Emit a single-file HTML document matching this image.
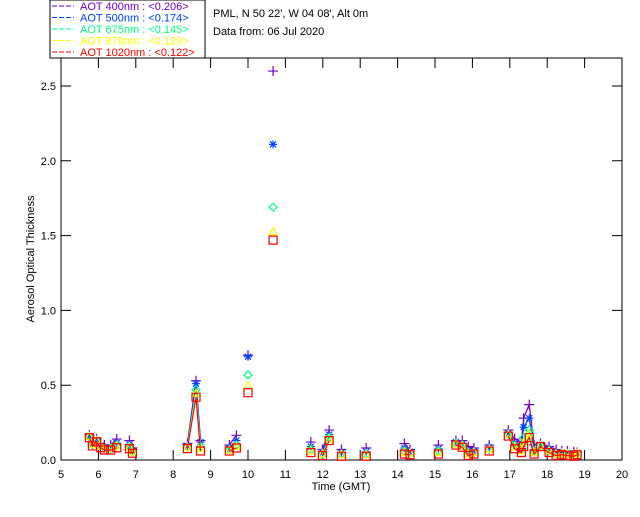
<!DOCTYPE html>
<html><head><meta charset="utf-8"><style>
body{margin:0;background:#fff;}
svg text{font-family:"Liberation Sans",sans-serif;font-size:11px;}
</style></head><body>
<svg id="c" width="640" height="512" xmlns="http://www.w3.org/2000/svg">
<rect width="640" height="512" fill="#fff"/>
<g id="legend">
<rect x="50" y="0" width="155" height="58" fill="none" stroke="#000"/>
</g>
<text x="213" y="17">PML, N 50 22', W 04 08', Alt 0m</text>
<text x="213" y="35">Data from: 06 Jul 2020</text>
<g id="axes"></g>
<g id="plot"></g>
</svg>
<script>
const t    =[5.76,5.84,5.95,6.06,6.16,6.33,6.49,6.83,6.91,8.38,8.61,8.73,9.5,9.69,10.0,10.67,11.68,11.99,12.17,12.5,13.16,14.18,14.33,15.09,15.56,15.73,15.89,16.04,16.45,16.96,17.13,17.31,17.37,17.52,17.65,17.82,18.05,18.24,18.39,18.54,18.71,18.8];
const a400 =[.167,.12,.14,.11,.10,.10,.14,.13,.08,.11,.53,.13,.10,.165,.70,2.6,.12,.07,.20,.07,.08,.11,.07,.10,.13,.13,.09,.08,.10,.20,.14,.12,.28,.37,.10,.11,.09,.07,.06,.06,.055,.05];
const a500 =[.159,.108,.132,.097,.085,.085,.114,.105,.064,.095,.51,.12,.08,.13,.69,2.11,.09,.05,.17,.05,.055,.08,.055,.075,.12,.11,.065,.06,.085,.18,.11,.09,.22,.28,.07,.10,.07,.05,.05,.045,.04,.045];
const a675 =[.154,.102,.127,.09,.077,.077,.099,.091,.055,.086,.47,.09,.07,.10,.57,1.69,.07,.04,.15,.04,.04,.06,.045,.06,.11,.10,.05,.05,.07,.17,.095,.07,.15,.20,.055,.095,.06,.04,.045,.04,.035,.04];
const a870 =[.151,.097,.124,.085,.07,.07,.088,.08,.048,.079,.44,.07,.06,.085,.49,1.52,.055,.035,.135,.03,.03,.045,.04,.045,.10,.09,.035,.045,.065,.165,.08,.055,.11,.17,.045,.09,.055,.035,.04,.035,.03,.038];
const a1020=[.149,.094,.122,.082,.067,.067,.082,.075,.045,.076,.42,.06,.06,.08,.45,1.47,.05,.03,.13,.025,.025,.04,.035,.04,.10,.085,.03,.04,.06,.16,.075,.05,.09,.15,.04,.09,.05,.03,.035,.03,.025,.035];
const xTicks=[5,6,7,8,9,10,11,12,13,14,15,16,17,18,19,20];
const yTicks=[0,0.5,1.0,1.5,2.0,2.5];
const legendLabels=["AOT  400nm : <0.206>","AOT  500nm : <0.174>","AOT  675nm : <0.145>","AOT  870nm : <0.129>","AOT 1020nm : <0.122>"];

const NS="http://www.w3.org/2000/svg";
const X0=61,X1=622,Y0=460,Y1=58;
const xs=v=>X0+(v-5)*(X1-X0)/15;
const ys=v=>Y0-v*149.6;
function mk(tag,at,par){const e=document.createElementNS(NS,tag);for(const k in at)e.setAttribute(k,at[k]);par.appendChild(e);return e;}
const axes=document.getElementById('axes'),plot=document.getElementById('plot'),leg=document.getElementById('legend');
const fr=mk('rect',{x:X0,y:Y1,width:X1-X0,height:Y0-Y1,fill:'none',stroke:'#000'},axes);


xTicks.forEach(v=>{const x=xs(v);
 const l=mk('path',{d:`M${x} ${Y0}v-10M${x} ${Y1}v10`,stroke:'#000'},axes);
 
 
 const tx=mk('text',{x:x,y:Y0+18,'text-anchor':'middle'},axes);tx.textContent=v;
 
 
});
yTicks.forEach(v=>{const y=ys(v);
 const l=mk('path',{d:`M${X0} ${y}h10M${X1} ${y}h-10`,stroke:'#000'},axes);
 
 
 const tx=mk('text',{x:X0-5,y:y+4,'text-anchor':'end'},axes);tx.textContent=v.toFixed(1);
 
 
});
const xt=mk('text',{x:341,y:490,'text-anchor':'middle'},axes);xt.textContent='Time (GMT)';


const yt=mk('text',{x:0,y:0,'text-anchor':'middle',transform:'translate(34,259) rotate(-90)','font-size':'10'},axes);yt.textContent='Aerosol Optical Thickness';



const series=[{d:a400,c:'#7000c0',m:'plus'},{d:a500,c:'#0040ff',m:'star'},{d:a675,c:'#00ff80',m:'diamond'},{d:a870,c:'#ffff00',m:'tri'},{d:a1020,c:'#ff0000',m:'square'}];
series.forEach((s,i)=>{
 const ly=10+i*11.5;
 const ll=mk('path',{d:`M52 ${ly-4}h22`,stroke:s.c,'stroke-dasharray':'5 2'},leg);
 
 
 const lt=mk('text',{x:80,y:ly,fill:s.c,'font-size':'10.5','xml:space':'preserve'},leg);lt.textContent=legendLabels[i];
 
 
 const g=mk('g',{},plot);
 
 
 let d='';
 for(let k=0;k<t.length;k++){const x=xs(t[k]),y=ys(s.d[k]);
  d+=(k>0&&t[k]-t[k-1]<0.25?'L':'M')+x.toFixed(1)+' '+y.toFixed(1);}
 const ln=mk('path',{d:d,stroke:s.c,fill:'none','stroke-width':1.2},g);
 
 
 for(let k=0;k<t.length;k++){const x=xs(t[k]),y=ys(s.d[k]);let md;
  if(s.m=='plus')md=`M${x-5} ${y}h10M${x} ${y-5}v10`;
  else if(s.m=='star')md=`M${x-4} ${y}h8M${x} ${y-4}v8M${x-3} ${y-3}l6 6M${x-3} ${y+3}l6 -6`;
  else if(s.m=='diamond')md=`M${x} ${y-4}l4 4l-4 4l-4 -4z`;
  else if(s.m=='tri')md=`M${x} ${y-5}l4 7h-8z`;
  else md=`M${x-4} ${y-4}h8v8h-8z`;
  const p=mk('path',{d:md,stroke:s.c,fill:'none','stroke-width':1.2},g);
  
  
 }
});
</script>
</body></html>
